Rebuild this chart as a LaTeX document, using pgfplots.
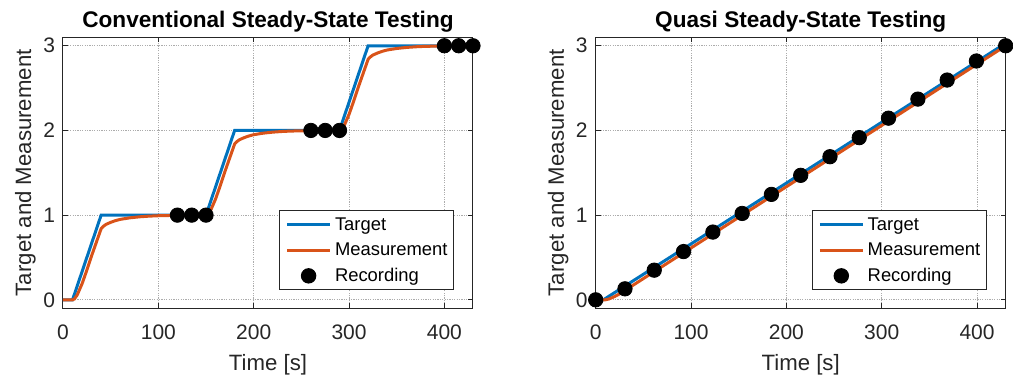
\documentclass[border=0pt]{standalone}
\usepackage{fontspec}
\setmainfont{Liberation Sans}
\usepackage{pgfplots}
\pgfplotsset{compat=1.18}
\definecolor{mblue}{rgb}{0,0.447,0.741}
\definecolor{morange}{rgb}{0.85,0.325,0.098}
\definecolor{axgray}{rgb}{0.15,0.15,0.15}
\pgfplotsset{
  mylegimg/.style={legend image code/.code={\draw[mark repeat=2,mark phase=2,##1] plot coordinates {(0pt,0pt)(10.75pt,0pt)(21.5pt,0pt)};}},
  mystyle/.style={
    width=205pt, height=135.5pt, scale only axis,
    xmin=0, xmax=430, ymin=-0.1, ymax=3.1,
    xtick={0,100,200,300,400}, ytick={0,1,2,3},
    grid=major,
    major grid style={gray!65, line width=0.5pt, dash pattern=on 0.6pt off 0.6pt},
    axis line style={axgray, line width=0.5pt},
    tick style={axgray, line width=0.5pt},
    major tick length=2.5pt,
    tick align=inside,
    clip=false,
    /pgf/number format/assume math mode=true,
    ticklabel style={font=\fontsize{10.5}{12}\selectfont, text=axgray},
    xticklabel style={yshift=-4.85pt},
    yticklabel style={xshift=-0.5pt},
    xlabel={Time [s]},
    ylabel={Target and Measurement},
    label style={font=\fontsize{11.1}{13}\selectfont, text=axgray},
    xlabel style={at={(axis description cs:0.5,-0.1686)}, anchor=north, inner sep=0pt},
    ylabel style={at={(axis description cs:-0.0915,0.5)}, anchor=center, inner sep=0pt},
    every axis title shift=0pt,
    title style={at={(axis description cs:0.5,1.0369)}, anchor=base, inner sep=0pt, font=\bfseries\fontsize{11.3}{13}\selectfont},
    legend style={at={(axis description cs:0.9537,0.0664)}, anchor=south east,
      draw=axgray, line width=0.5pt, fill=white,
      font=\fontsize{9.2}{11}\selectfont,
      inner xsep=3pt, inner ysep=0.6pt, row sep=0pt, column sep=1.7pt,
      nodes={inner sep=0pt, text height=9pt, text depth=3.75pt}},
    legend cell align=left,
    tline/.style={mblue, line width=1.5pt, mylegimg},
    mline/.style={morange, line width=1.5pt, mylegimg},
    rdots/.style={only marks, mark=*, mark size=3.6pt, black, mark options={fill=black}, mylegimg},
  }
}
\begin{document}
\begin{tikzpicture}
\useasboundingbox (0,0) rectangle (506.5pt,189.5pt);
\begin{axis}[mystyle, at={(31.5pt,35.35pt)}, anchor=south west,
  title={Conventional Steady-State Testing}]
\addplot[tline] coordinates {(0,0)(10,0)(40,1)(150,1)(180,2)(290,2)(320,3)(430,3)};
\addplot[mline] coordinates {
(0,0)(10,0)(12,0.01)(15,0.06)(20,0.19)(25,0.35)(30,0.52)(35,0.68)(40,0.84)(42,0.865)(45,0.89)(50,0.915)(55,0.935)(60,0.95)(70,0.968)(80,0.98)(90,0.988)(100,0.993)(120,0.998)(150,1.0)
(152,1.01)(155,1.06)(160,1.19)(165,1.35)(170,1.52)(175,1.68)(180,1.84)(182,1.865)(185,1.89)(190,1.915)(195,1.935)(200,1.95)(210,1.968)(220,1.98)(230,1.988)(240,1.993)(260,1.998)(290,2.0)
(292,2.01)(295,2.06)(300,2.19)(305,2.35)(310,2.52)(315,2.68)(320,2.84)(322,2.865)(325,2.89)(330,2.915)(335,2.935)(340,2.95)(350,2.968)(360,2.98)(370,2.988)(380,2.993)(400,2.998)(430,3.0)};
\addplot[rdots] coordinates {(120,1)(135,1)(150,1)(260,2)(275,2)(290,2)(400,3)(415,3)(430,3)};
\legend{Target,Measurement,Recording}
\end{axis}
\begin{axis}[mystyle, at={(297.85pt,35.35pt)}, anchor=south west,
  title={Quasi Steady-State Testing}]
\addplot[tline] coordinates {(0,0)(8,0)(430,3.03)};
\addplot[mline] coordinates {(0,0)(10,0)(14,0.01)(20,0.04)(25,0.07)(430,3.0)};
\addplot[rdots] coordinates {(0,0)(30.7,0.13)(61.4,0.35)(92.1,0.57)(122.9,0.80)(153.6,1.02)(184.3,1.245)(215,1.47)(245.7,1.69)(276.4,1.915)(307.1,2.145)(337.9,2.37)(368.6,2.595)(399.3,2.82)(430,3.0)};
\legend{Target,Measurement,Recording}
\end{axis}
\end{tikzpicture}
\end{document}
